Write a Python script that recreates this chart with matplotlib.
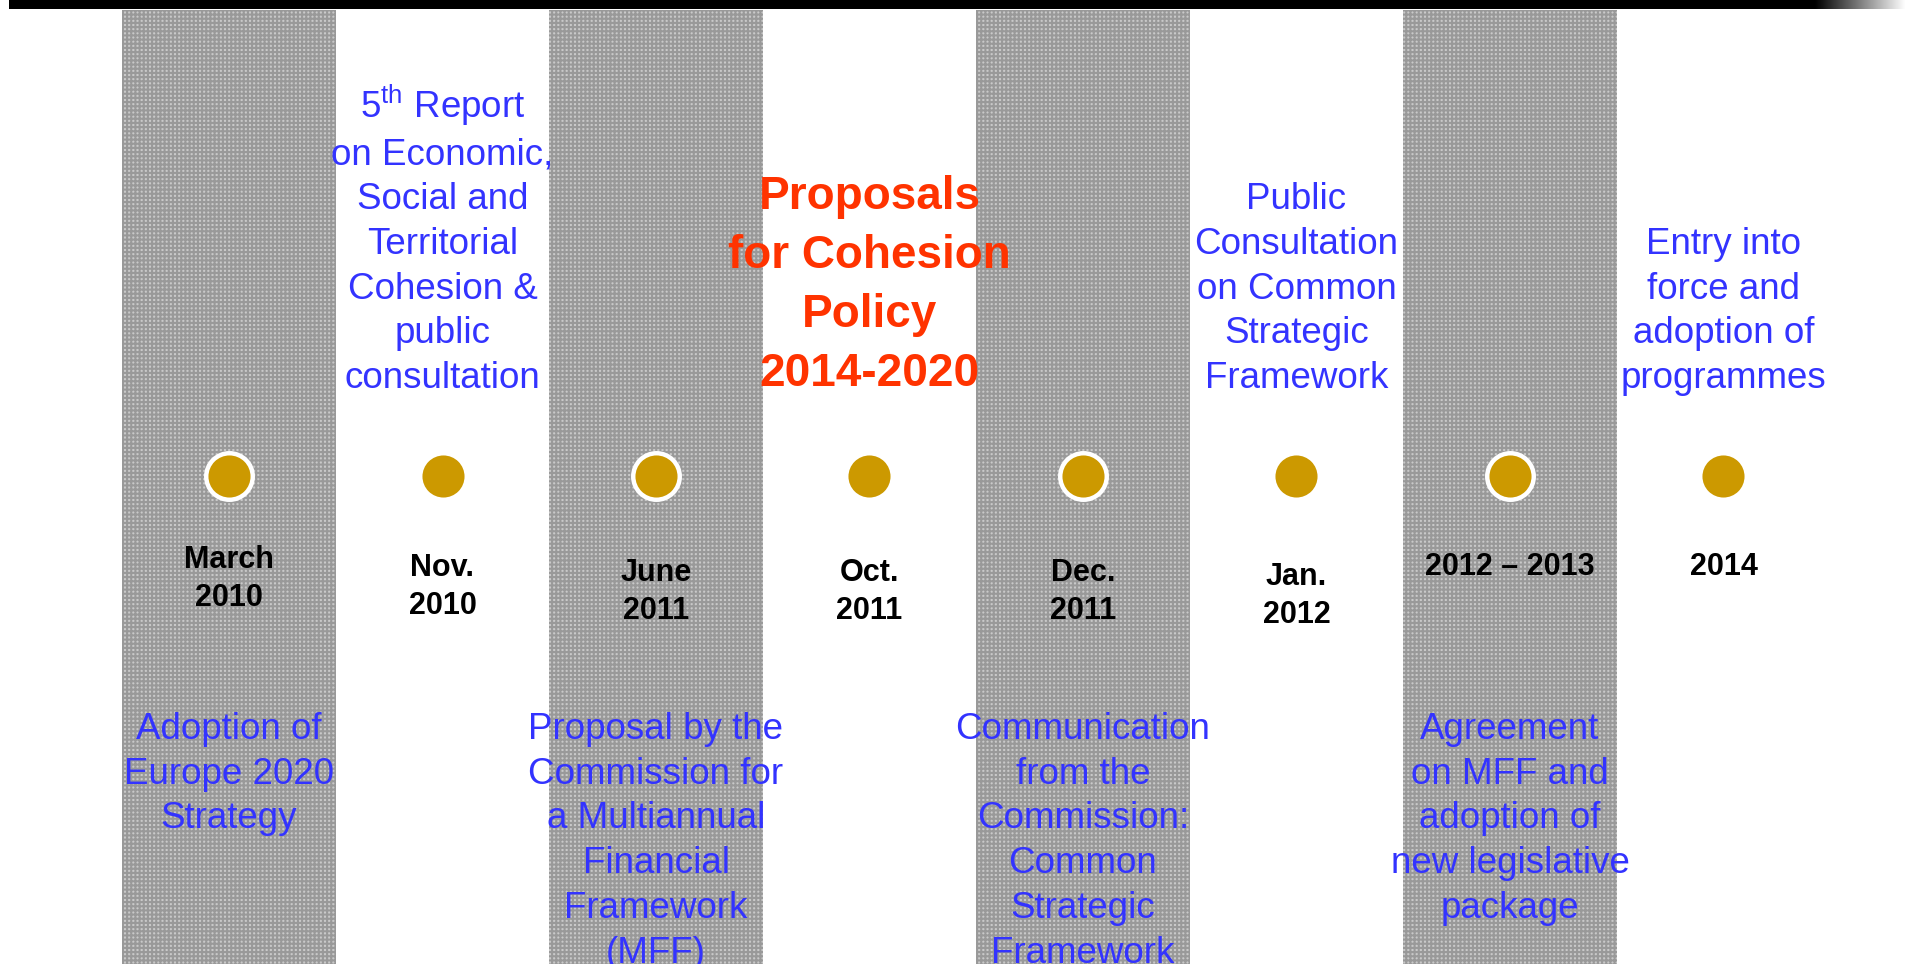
import numpy as np
import matplotlib
matplotlib.use("Agg")
import matplotlib.pyplot as plt

# textos da linha do tempo
dates = ["March\n2010", "Nov.\n2010", "June\n2011", "Oct.\n2011",
         "Dec.\n2011", "Jan.\n2012", "2012 \u2013 2013", "2014"]

upper_texts = {
    1: "5$^{\\mathrm{th}}$ Report\non Economic,\nSocial and\nTerritorial\nCohesion &\npublic\nconsultation",
    3: "Proposals\nfor Cohesion\nPolicy\n2014-2020",
    5: "Public\nConsultation\non Common\nStrategic\nFramework",
    7: "Entry into\nforce and\nadoption of\nprogrammes",
}

lower_texts = {
    0: "Adoption of\nEurope 2020\nStrategy",
    2: "Proposal by the\nCommission for\na Multiannual\nFinancial\nFramework\n(MFF)",
    4: "Communication\nfrom the\nCommission:\nCommon\nStrategic\nFramework",
    6: "Agreement\non MFF and\nadoption of\nnew legislative\npackage",
}

highlight = 3  # bloco em vermelho

# posicoes (pixels da figura, y para baixo)
date_top = [545, 553, 558, 558, 558, 562, 552, 552]
dot_y = 476
upper_bottom = 396
lower_top = 712
slot_px = 213.5
first_px = 229

plt.rcParams['font.family'] = ['Liberation Sans', 'DejaVu Sans']
plt.rcParams['mathtext.fontset'] = 'custom'
plt.rcParams['mathtext.rm'] = 'Liberation Sans'
plt.rcParams['hatch.linewidth'] = 1.5

hatch_col = (0.42, 0.42, 0.42, 0.5)

W, H = 1912, 964
fig = plt.figure(figsize=(W / 100, H / 100), dpi=100)
ax = fig.add_axes([0, 0, 1, 1])
ax.set_xlim(-first_px / slot_px, (W - first_px) / slot_px)
ax.set_ylim(H, 0)
ax.axis('off')


def px2x(px):
    return (px - first_px) / slot_px


n = len(dates)
x = np.arange(n)

# colunas cinzas
ax.bar(x[::2], H - 10, bottom=10, width=1.0, color='#c9c9c9',
       hatch='++++', edgecolor=hatch_col, linewidth=0, zorder=1)

# barra preta no topo, com degrade no fim
grad = np.ones((1, 400, 4))
grad[..., :3] = 0
grad[0, :, 3] = np.clip((1908 - np.linspace(9, 1908, 400)) / 90, 0, 1)
ax.imshow(grad, extent=[px2x(9), px2x(1908), 9, 0], aspect='auto', zorder=3,
          interpolation='bilinear')

# pontos
ax.scatter(x, np.full(n, dot_y), s=1122, color='#cc9900', edgecolor='white',
           linewidth=3.2, zorder=4)

# datas
for i, d in enumerate(dates):
    ax.text(x[i], date_top[i], d, ha='center', va='top', fontsize=22,
            fontweight='bold', color='black', linespacing=1.36, zorder=5)

# textos de cima
for i, t in upper_texts.items():
    if i == highlight:
        ax.text(x[i], upper_bottom, t, ha='center', va='bottom', fontsize=33,
                fontweight='bold', color='#ff3300', linespacing=1.44, zorder=5)
    else:
        ax.text(x[i], upper_bottom, t, ha='center', va='bottom', fontsize=26.5,
                color='#3333ff', linespacing=1.36, zorder=5)

# textos de baixo
for i, t in lower_texts.items():
    ax.text(x[i], lower_top, t, ha='center', va='top', fontsize=26.5,
            color='#3333ff', linespacing=1.36, zorder=5)

fig.savefig('out.png', dpi=100)
